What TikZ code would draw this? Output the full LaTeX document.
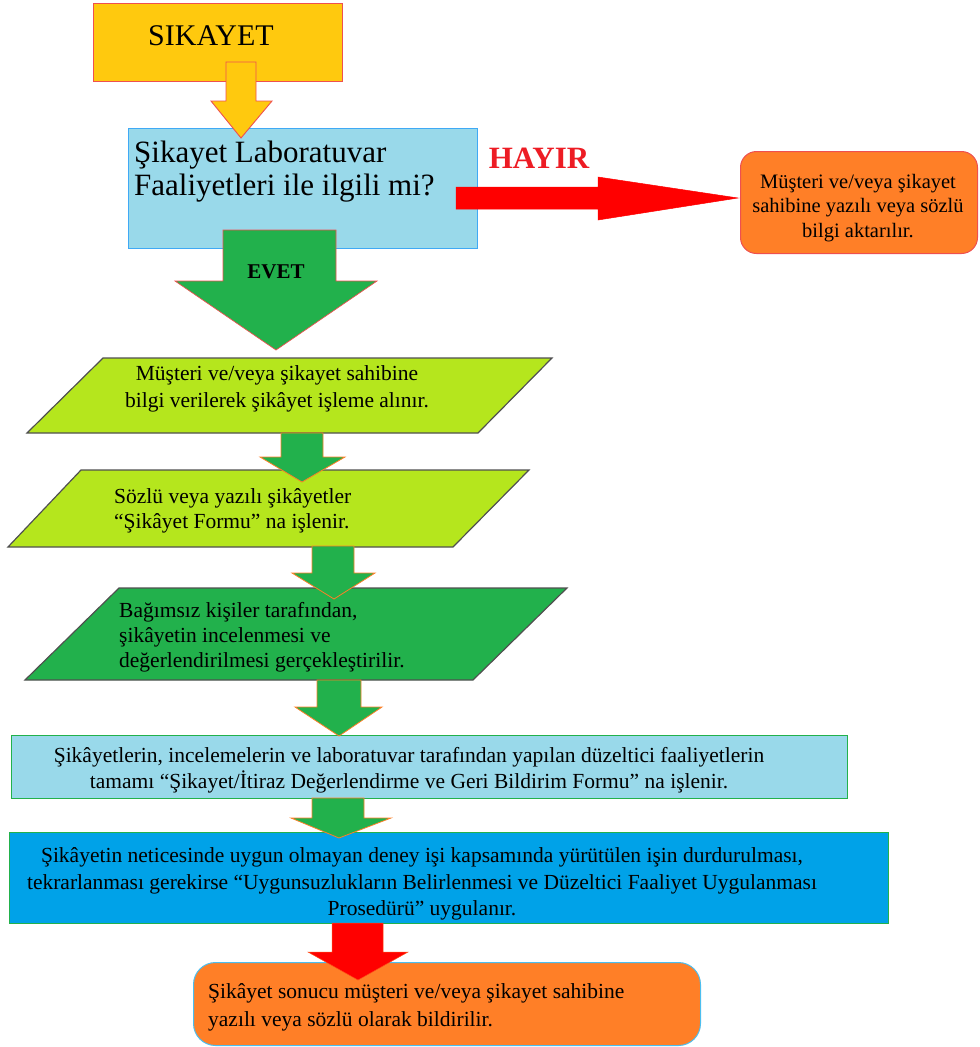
\documentclass[tikz,border=0pt]{standalone}
\usepackage{fontspec}
\setmainfont{Liberation Serif}
\definecolor{gold}{HTML}{FFC90E}
\definecolor{goldline}{HTML}{EE5050}
\definecolor{skyfill}{HTML}{99D9EA}
\definecolor{skyline}{HTML}{3FA9F5}
\definecolor{hayir}{HTML}{ED1C24}
\definecolor{orng}{HTML}{FF7F27}
\definecolor{grn}{HTML}{22B14C}
\definecolor{lime}{HTML}{B5E61D}
\definecolor{blu}{HTML}{00A2E8}
\definecolor{paraline}{HTML}{505050}
\tikzset{
  boxtext/.style={inner sep=0pt, text=black},
  yarrow/.style={fill=gold, draw=goldline, line width=0.9pt},
  garrowred/.style={fill=grn, draw=goldline, line width=0.7pt},
  garrow/.style={fill=grn, draw=orng, line width=0.8pt},
  rarrow/.style={fill=red, draw=red, line width=0.5pt},
  para/.style={draw=paraline, line width=1.2pt},
}
\begin{document}
\begin{tikzpicture}[x=1pt,y=-1pt]
\useasboundingbox (0,0) rectangle (980,1047);

% SIKAYET box
\node[draw=goldline, fill=gold, line width=1pt, minimum width=249pt, minimum height=78pt, inner sep=0pt, anchor=north west] (sik) at (93,3) {};
\node[boxtext, font=\fontsize{30}{33}\selectfont] (sikt) at (211,36) {SIKAYET};

% decision box
\node[draw=skyline, fill=skyfill, line width=1pt, minimum width=349pt, minimum height=120pt, inner sep=0pt, anchor=north west] (dec) at (128,128) {};
\node[boxtext, anchor=west, align=left, font=\fontsize{31}{33}\selectfont] (dect) at (134,172) {Şikayet Laboratuvar\\Faaliyetleri ile ilgili mi?};

% right box
\node[draw=goldline, fill=orng, line width=1pt, rounded corners=16pt, minimum width=237pt, minimum height=102pt, inner sep=0pt, anchor=north west] (hb) at (740,151) {};
\node[boxtext, align=center, font=\fontsize{20.5}{24.5}\selectfont] (hbt) at (858,208) {Müşteri ve/veya şikayet\\sahibine yazılı veya sözlü\\bilgi aktarılır.};

% HAYIR label
\node[boxtext, text=hayir, font=\bfseries\fontsize{31}{33}\selectfont] (hay) at (539,158) {HAYIR};

% parallelograms
\filldraw[para, fill=lime] (103,358) -- (552,358) -- (478,433) -- (27,433) -- cycle;
\node[boxtext, align=center, font=\fontsize{21.5}{27}\selectfont] (p1) at (277,389) {Müşteri ve/veya şikayet sahibine\\bilgi verilerek şikâyet işleme alınır.};

\filldraw[para, fill=lime] (81,470) -- (529,470) -- (453,547) -- (8,547) -- cycle;
\node[boxtext, anchor=west, align=left, font=\fontsize{21.5}{25}\selectfont] (p2) at (114,511) {Sözlü veya yazılı şikâyetler\\“Şikâyet Formu” na işlenir.};

\filldraw[para, fill=grn] (119,588) -- (567,588) -- (473,680) -- (25,680) -- cycle;
\node[boxtext, anchor=west, align=left, font=\fontsize{21.5}{25}\selectfont] (p3) at (119,637) {Bağımsız kişiler tarafından,\\şikâyetin incelenmesi ve\\değerlendirilmesi gerçekleştirilir.};

% box 5
\node[draw=grn, fill=skyfill, line width=1pt, minimum width=836pt, minimum height=63pt, inner sep=0pt, anchor=north west] (b5) at (11,735) {};
\node[boxtext, align=center, font=\fontsize{21.5}{26}\selectfont] (b5t) at (409,770) {Şikâyetlerin, incelemelerin ve laboratuvar tarafından yapılan düzeltici faaliyetlerin\\tamamı “Şikayet/İtiraz Değerlendirme ve Geri Bildirim Formu” na işlenir.};

% box 6
\node[draw=grn, fill=blu, line width=0.8pt, minimum width=879pt, minimum height=91pt, inner sep=0pt, anchor=north west] (b6) at (9,832) {};
\node[boxtext, align=center, font=\fontsize{21.5}{26.5}\selectfont] (b6t) at (422,884) {Şikâyetin neticesinde uygun olmayan deney işi kapsamında yürütülen işin durdurulması,\\tekrarlanması gerekirse “Uygunsuzlukların Belirlenmesi ve Düzeltici Faaliyet Uygulanması\\Prosedürü” uygulanır.};

% box 7
\node[draw=blu!70, fill=orng, line width=1pt, rounded corners=22pt, minimum width=507pt, minimum height=83pt, inner sep=0pt, anchor=north west] (b7) at (193,962) {};
\node[boxtext, anchor=west, align=left, font=\fontsize{21.5}{28}\selectfont] (b7t) at (208,1007) {Şikâyet sonucu müşteri ve/veya şikayet sahibine\\yazılı veya sözlü olarak bildirilir.};

% block arrows
\filldraw[yarrow] (226,62) -- (256,62) -- (256,101) -- (272,101) -- (241,138) -- (211,101) -- (226,101) -- cycle;
\filldraw[rarrow] (456,187) -- (598,187) -- (598,177) -- (738,198) -- (598,220) -- (598,209) -- (456,209) -- cycle;
\filldraw[garrowred] (223,230) -- (336,230) -- (336,281) -- (377,281) -- (276,350) -- (175,281) -- (223,281) -- cycle;
\node[boxtext, font=\bfseries\fontsize{21}{24}\selectfont] (evet) at (276,272) {EVET};
\filldraw[garrow] (281,433) -- (323,433) -- (323,457) -- (345,457) -- (302,482) -- (260,457) -- (281,457) -- cycle;
\filldraw[garrow] (312,546) -- (354,546) -- (354,573) -- (375,573) -- (334,599) -- (292,573) -- (312,573) -- cycle;
\filldraw[garrow] (317,680) -- (361,680) -- (361,707) -- (382,707) -- (339,736) -- (295,707) -- (317,707) -- cycle;
\filldraw[garrow] (312,798) -- (364,798) -- (364,818) -- (391,818) -- (339,838) -- (291,818) -- (312,818) -- cycle;
\filldraw[rarrow, draw=orng!60!red] (332,923) -- (383,923) -- (383,952) -- (408,952) -- (358,980) -- (308,952) -- (332,952) -- cycle;
\end{tikzpicture}
\end{document}
